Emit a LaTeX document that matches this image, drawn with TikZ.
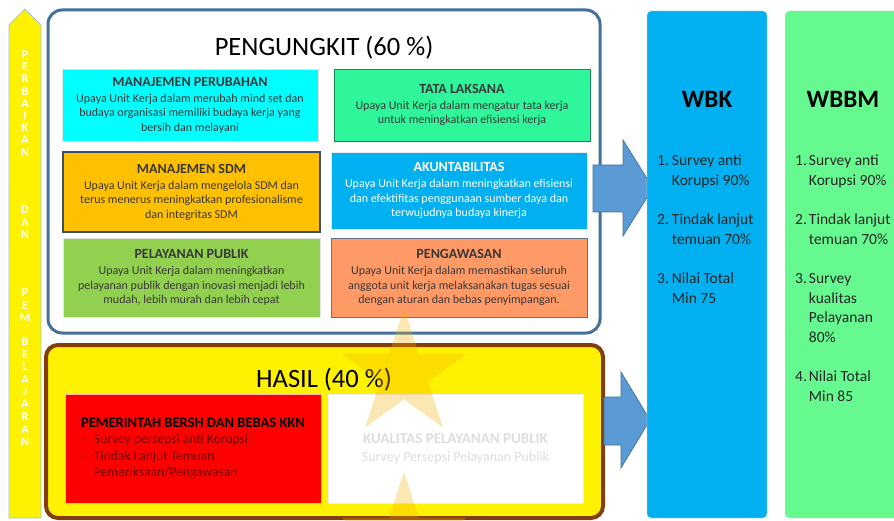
\documentclass[tikz,border=0pt]{standalone}
\usepackage{fontspec}
\setmainfont{Carlito}
\usepackage{tikz}
\usetikzlibrary{shapes.geometric,positioning}
\usepackage{xcolor}
\definecolor{figblue}{HTML}{41719C}
\definecolor{figbrown}{HTML}{843C0C}
\definecolor{figarrow}{HTML}{5B9BD5}
\definecolor{figcyan}{HTML}{00FFFF}
\definecolor{figmint}{HTML}{2FF59B}
\definecolor{figamber}{HTML}{FFC000}
\definecolor{figsky}{HTML}{00B0F0}
\definecolor{figlime}{HTML}{92D050}
\definecolor{figsalmon}{HTML}{FF9966}
\definecolor{figred}{HTML}{FF0000}
\definecolor{figmaroon}{HTML}{700000}
\definecolor{figwbbm}{HTML}{66F990}
\definecolor{figstar}{HTML}{F5B000}
\definecolor{figslate}{HTML}{3E4E66}
\newcommand{\cardhead}[1]{{\fontsize{14}{14.5}\selectfont\bfseries #1}\\[1.5pt]}

\begin{document}
\begin{tikzpicture}[x=1pt, y=-1pt,
  area/.style={line width=3pt, rounded corners=14pt},
  card/.style={minimum width=256pt, minimum height=78pt, align=center, inner sep=2pt,
    font=\fontsize{12}{14.5}\selectfont, text=black!78},
  bigtitle/.style={anchor=base, inner sep=0pt, font=\fontsize{26.5}{30}\selectfont},
  target/.style={draw=black!12, rounded corners=4pt, minimum width=120pt, minimum height=507pt},
  ttitle/.style={anchor=base, inner sep=0pt, font=\fontsize{25}{30}\selectfont\bfseries},
  tlist/.style={anchor=base west, inner sep=0pt, font=\fontsize{15.5}{19.5}\selectfont, text=black!85},
  block/.style={fill=figarrow, draw=figblue, line width=0.7pt},
  lettr/.style={text=white, inner sep=0pt, font=\fontsize{12}{12}\selectfont\bfseries},
  badge/.style={star, star points=5, star point ratio=2.62, minimum size=132pt, inner sep=0pt,
    fill=figstar, fill opacity=0.3}
]
\useasboundingbox (0,0) rectangle (894,521);
\clip (0,0) rectangle (894,521);

% left arrow
\draw[fill=yellow, draw=figarrow!60, line width=0.8pt] (9,518) -- (9,25) -- (25,9) -- (41,25) -- (41,518) -- cycle;
\foreach \ch/\yy [count=\i] in {P/55,E/67,R/79,B/92,A/104,I/116,K/128,A/140,N/153,
    D/210,A/223,N/235,P/293,E/306,M/318,B/342,E/355,L/367,A/380,J/392,A/404,R/417,A/430,N/442}
  \node[lettr] (lt\i) at (25,\yy) {\ch};

% pengungkit
\draw[area, draw=figblue, fill=white] (48,10) rectangle (600,333);
\node[bigtitle] (pgtitle) at (324,56) {PENGUNGKIT (60 \%)};

\node[card, fill=figcyan, draw=black!12, minimum height=72pt] (perubahan) at (190,105)
  {\cardhead{MANAJEMEN PERUBAHAN}Upaya Unit Kerja dalam merubah mind set dan\\budaya organisasi memiliki budaya kerja yang\\bersih dan melayani};
\node[card, fill=figmint, draw=black!45!figmint, minimum height=72pt] (tatalaksana) at (462,105)
  {\cardhead{TATA LAKSANA}Upaya Unit Kerja dalam mengatur tata kerja\\untuk meningkatkan efisiensi kerja};
\node[card, fill=figamber, draw=figslate, line width=1.4pt, minimum width=257pt, minimum height=80pt] (sdm) at (191.5,192)
  {\cardhead{MANAJEMEN SDM}Upaya Unit Kerja dalam mengelola SDM dan\\terus menerus meningkatkan profesionalisme\\dan integritas SDM};
\node[card, fill=figsky, draw=black!8, text=white, minimum height=77pt] (akuntabilitas) at (459,190.5)
  {\cardhead{AKUNTABILITAS}Upaya Unit Kerja dalam meningkatkan efisiensi\\dan efektifitas penggunaan sumber daya dan\\terwujudnya budaya kinerja};
\node[card, fill=figlime, draw=black!10, minimum width=257pt, minimum height=79pt] (pelayanan) at (191.5,277.5)
  {\cardhead{PELAYANAN PUBLIK}Upaya Unit Kerja dalam meningkatkan\\pelayanan publik dengan inovasi menjadi lebih\\mudah, lebih murah dan lebih cepat};
\node[card, fill=figsalmon, draw=figslate!80, line width=0.8pt, minimum height=79pt] (pengawasan) at (459,277.5)
  {\cardhead{PENGAWASAN}Upaya Unit Kerja dalam memastikan seluruh\\anggota unit kerja melaksanakan tugas sesuai\\dengan aturan dan bebas penyimpangan.};

% hasil
\draw[area, line width=4pt, rounded corners=12pt, draw=figbrown, fill=yellow] (46,345) rectangle (603,518);
\node[bigtitle] (hstitle) at (324,387) {HASIL (40 \%)};

\node[fill=figred, draw=red!30, minimum width=256pt, minimum height=109pt, inner sep=0pt,
  text=figmaroon, font=\fontsize{13.5}{16.5}\selectfont] (kkn) at (193,448.5)
  {\begin{tabular}[t]{@{}l@{\hspace{9pt}}l@{}}
   \multicolumn{2}{@{}l@{}}{\textcolor{black}{\fontsize{14.5}{16.5}\selectfont\bfseries PEMERINTAH BERSH DAN BEBAS KKN}}\\
   - & Survey persepsi anti Korupsi\\
   - & Tindak Lanjut Temuan\\
     & Pemeriksaan/Pengawasan
   \end{tabular}};
\node[fill=white, draw=black!8, minimum width=255pt, minimum height=109pt, align=center,
  text=black!13, font=\fontsize{14}{18}\selectfont] (kualitas) at (455.5,448.5)
  {{\fontsize{15}{18}\selectfont\bfseries KUALITAS PELAYANAN PUBLIK}\\Survey Persepsi Pelayanan Publik};

% arrows
\draw[block] (593,165) -- (623,165) -- (623,140) -- (653,188) -- (623,236) -- (623,212) -- (593,212) -- cycle;
\draw[block] (604,397) -- (621,397) -- (621,372) -- (650,420) -- (621,468) -- (621,445) -- (604,445) -- cycle;

% targets
\node[target, fill=figsky] (wbk) at (707,264.5) {};
\node[ttitle] (wbkt) at (707,108) {WBK};
\node[tlist] (wbklist) at (657,166)
  {\begin{tabular}[t]{@{}l@{\hspace{3pt}}l@{}}
   1. & Survey anti\\ & Korupsi 90\%\\[20pt]
   2. & Tindak lanjut\\ & temuan 70\%\\[20pt]
   3. & Nilai Total\\ & Min 75
   \end{tabular}};

\node[target, fill=figwbbm] (wbbm) at (845,264.5) {};
\node[ttitle] (wbbmt) at (843,108) {WBBM};
\node[tlist] (wbbmlist) at (795,166)
  {\begin{tabular}[t]{@{}l@{\hspace{2pt}}l@{}}
   1. & Survey anti\\ & Korupsi 90\%\\[20pt]
   2. & Tindak lanjut\\ & temuan 70\%\\[20pt]
   3. & Survey\\ & kualitas\\ & Pelayanan\\ & 80\%\\[20pt]
   4. & Nilai Total\\ & Min 85
   \end{tabular}};

% watermark stars
\node[badge] (star1) at (404,374) {};
\node[badge] (star2) at (404,538) {};
\end{tikzpicture}
\end{document}
